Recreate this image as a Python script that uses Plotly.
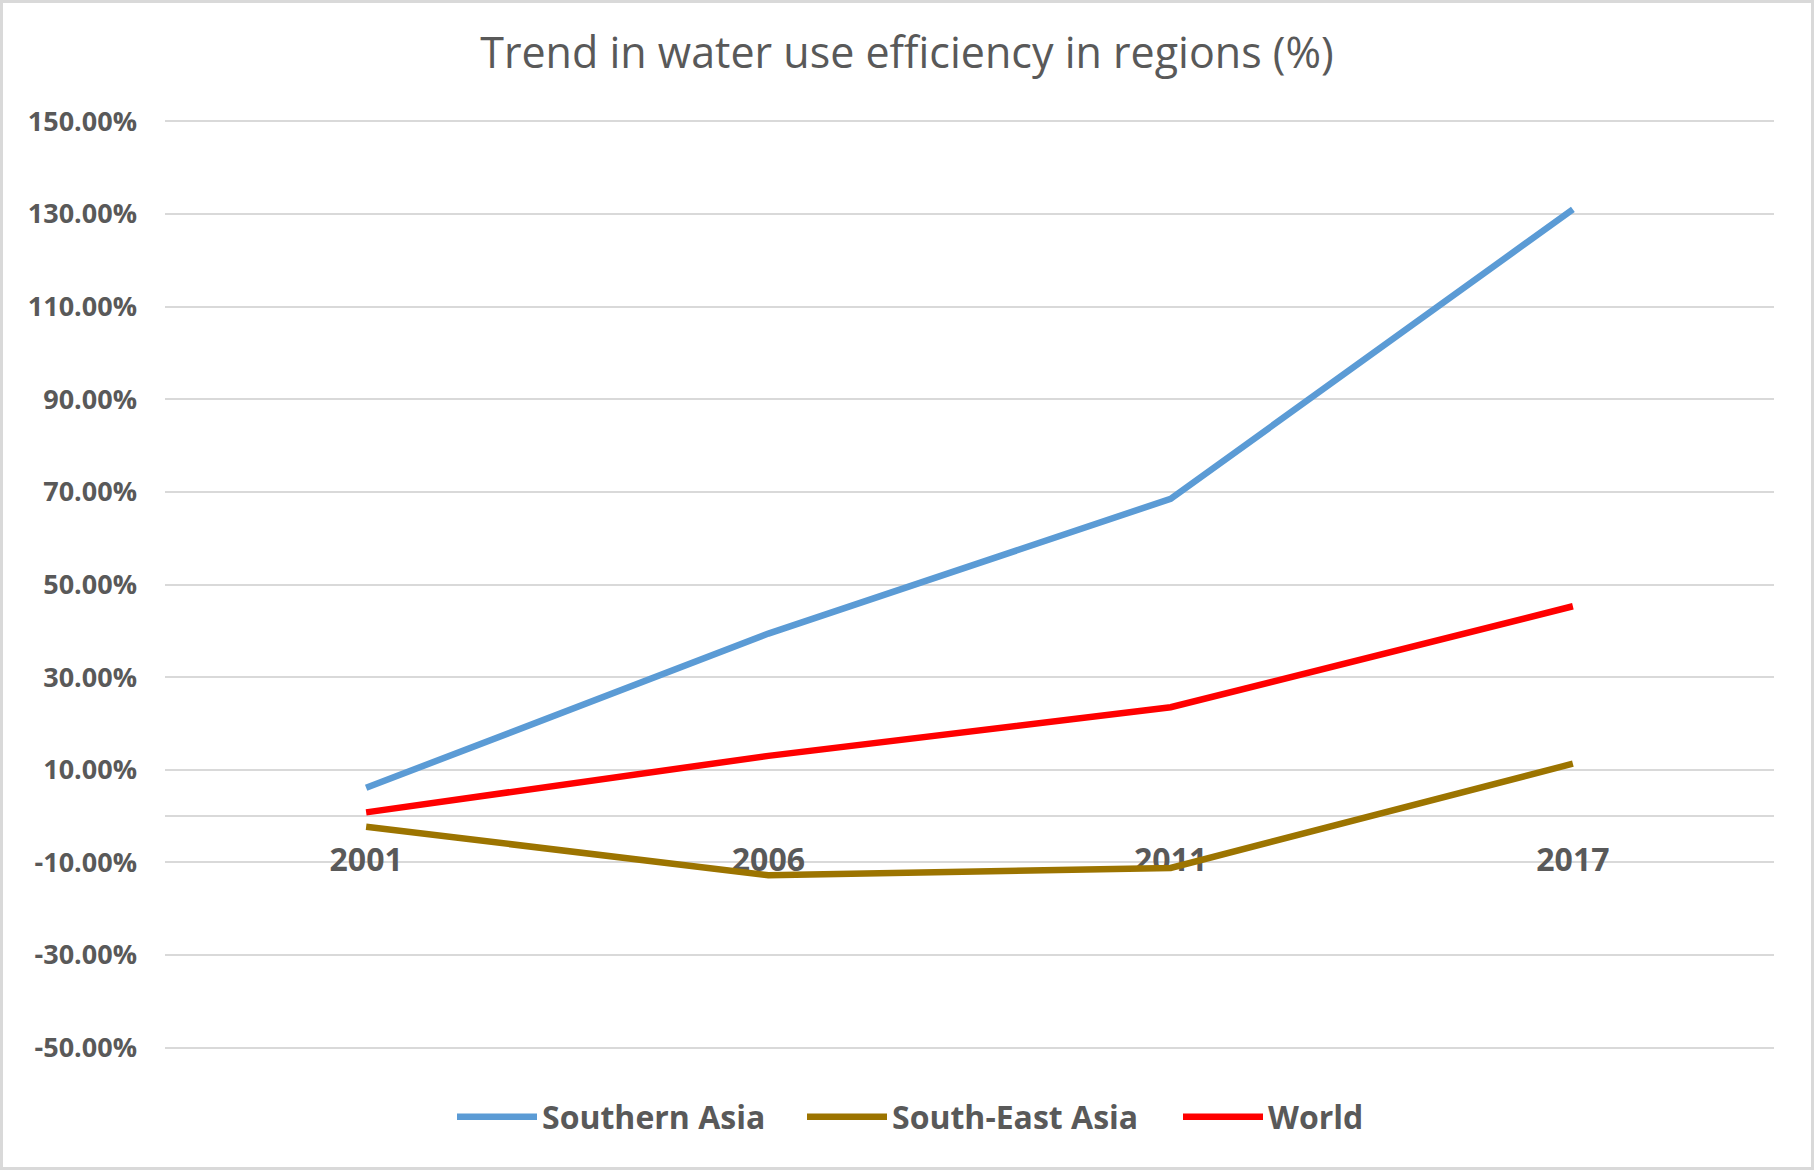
import plotly.graph_objects as go

years = ["2001", "2006", "2011", "2017"]
southern_asia = [6.1, 39.4, 68.5, 131.0]
south_east_asia = [-2.3, -12.8, -11.2, 11.3]
world = [0.8, 13.0, 23.5, 45.3]
y_ticks = [-50, -30, -10, 10, 30, 50, 70, 90, 110, 130, 150]
y_tick_labels = [f"{v:.2f}%" for v in y_ticks]

series = [
    ("Southern Asia", southern_asia, "#5B9BD5", "legend"),
    ("South-East Asia", south_east_asia, "#9C7400", "legend2"),
    ("World", world, "#FF0000", "legend3"),
]

W, H = 1814, 1170
ml, mr, mt, mb = 165, 40, 120, 121
pw, ph = W - ml - mr, H - mt - mb

fig = go.Figure()
for name, vals, color, lg in series:
    fig.add_trace(go.Scatter(x=years, y=vals, mode="lines", name=name, legend=lg,
                             line=dict(color=color, width=6.5)))

grey = "#595959"
gridc = "#D9D9D9"
leg_font = dict(family="Open Sans", size=32, color=grey, weight="bold")
leg_y = -(1117 - (H - mb)) / ph


def leg(xpix):
    return dict(orientation="h", x=(xpix - ml) / pw, xanchor="left",
                y=leg_y, yanchor="middle", itemwidth=80, font=leg_font,
                bgcolor="rgba(0,0,0,0)")


fig.update_layout(
    width=W, height=H,
    margin=dict(l=ml, r=mr, t=mt, b=mb),
    paper_bgcolor="white", plot_bgcolor="white",
    font=dict(family="Open Sans", color=grey),
    title=dict(text="Trend in water use efficiency in regions (%)",
               x=0.5, xref="container", xanchor="center",
               y=1 - 53 / H, yref="container", yanchor="middle",
               font=dict(family="Open Sans", size=43, color=grey)),
    xaxis=dict(type="category", range=[-0.5, 3.5], anchor="free",
               position=50.3 / 200.6, showgrid=False, showline=False,
               ticks="", ticklabelstandoff=22, layer="below traces",
               tickfont=dict(family="Open Sans", size=32, color=grey, weight="bold")),
    yaxis=dict(range=[-50.3, 150.3], tickmode="array", tickvals=y_ticks,
               ticktext=y_tick_labels, showgrid=True,
               gridcolor=gridc, gridwidth=2, zeroline=True, zerolinecolor=gridc,
               zerolinewidth=2, showline=False, ticks="", ticklabelstandoff=27,
               tickfont=dict(family="Open Sans", size=27, color=grey, weight="bold")),
    legend=leg(452),
    legend2=leg(802),
    legend3=leg(1178),
    showlegend=True,
    shapes=[dict(type="rect", xref="paper", yref="paper",
                 x0=-(ml - 1.5) / pw, x1=1 + (mr - 1.5) / pw,
                 y0=-(mb - 1.5) / ph, y1=1 + (mt - 1.5) / ph,
                 line=dict(color=gridc, width=3), layer="above")],
)

fig.write_html("out.html")
